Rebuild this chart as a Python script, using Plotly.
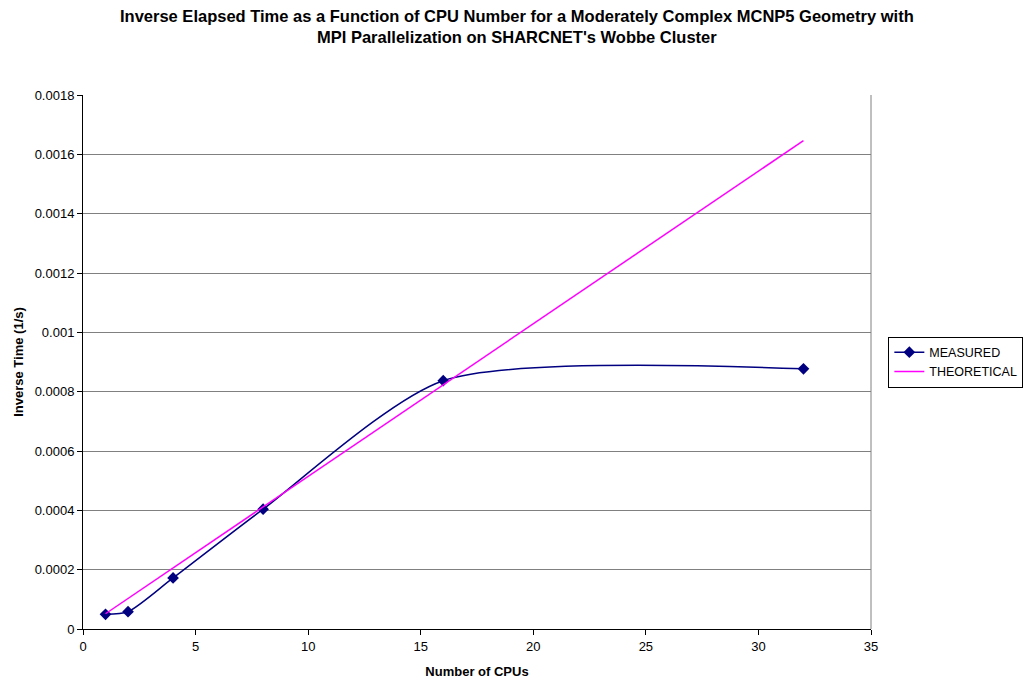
import plotly.graph_objects as go

cpus = [1, 2, 4, 8, 16, 32]
measured = [0.0000496, 0.0000583, 0.000172, 0.000404, 0.000837, 0.000877]
theoretical = [0.0000514, 0.0001029, 0.0002058, 0.0004116, 0.0008231, 0.0016462]

title_text = ("<b>Inverse Elapsed Time as a Function of CPU Number for a Moderately Complex MCNP5 Geometry with<br>"
              "MPI Parallelization on SHARCNET's Wobbe Cluster</b>")

fig = go.Figure()
fig.add_trace(go.Scatter(
    x=cpus, y=measured, name="MEASURED", mode="lines+markers",
    line=dict(color="#000080", width=1.5, shape="spline", smoothing=0.7),
    marker=dict(symbol="diamond", size=9, color="#000080"),
))
fig.add_trace(go.Scatter(
    x=cpus, y=theoretical, name="THEORETICAL", mode="lines",
    line=dict(color="#FF00FF", width=1.5),
))

font = "Liberation Sans, Arial, sans-serif"
fig.update_layout(
    width=1033, height=683,
    paper_bgcolor="white", plot_bgcolor="white",
    font=dict(family=font, size=13, color="black"),
    margin=dict(l=83, r=1033 - 871, t=95, b=683 - 629, autoexpand=False),
    xaxis=dict(range=[0, 35], tickvals=[0, 5, 10, 15, 20, 25, 30, 35],
               showgrid=False, zeroline=False, showline=True, linecolor="black", linewidth=1,
               ticks="outside", ticklen=5, tickcolor="black",
               title=dict(text="<b>Number of CPUs</b>", font=dict(size=13), standoff=14)),
    yaxis=dict(range=[0, 0.0018], tickvals=[0, 0.0002, 0.0004, 0.0006, 0.0008, 0.001, 0.0012, 0.0014, 0.0016, 0.0018],
               ticktext=["0", "0.0002", "0.0004", "0.0006", "0.0008", "0.001", "0.0012", "0.0014", "0.0016", "0.0018"],
               showgrid=True, gridcolor="#808080", gridwidth=1, zeroline=False,
               showline=True, linecolor="black", linewidth=1,
               ticks="outside", ticklen=5, tickcolor="black",
               title=dict(text="<b>Inverse Time (1/s)</b>", font=dict(size=13), standoff=8)),
    showlegend=True,
    legend=dict(x=1.022, y=0.5, xanchor="left", yanchor="middle",
                bordercolor="black", borderwidth=1, bgcolor="white",
                font=dict(size=12.5), tracegroupgap=0, itemwidth=30),
)
fig.add_annotation(text=title_text, xref="paper", yref="paper",
                   x=(517 - 83) / (871 - 83), y=1 + (95 - 27) / (629 - 95),
                   xanchor="center", yanchor="middle", showarrow=False,
                   font=dict(family=font, size=16.5, color="black"))
# right border line of plot area
fig.add_shape(type="line", xref="paper", yref="paper", x0=1, x1=1, y0=0, y1=1,
              line=dict(color="#808080", width=1))
fig.write_html("out.html")
